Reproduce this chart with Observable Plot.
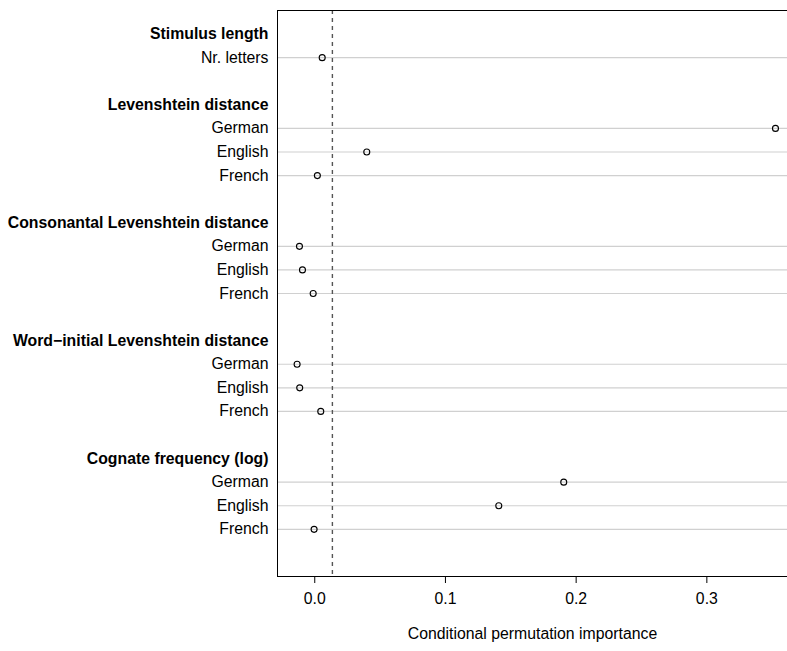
<!DOCTYPE html>
<html>
<head>
<meta charset="utf-8">
<script src="https://cdn.jsdelivr.net/npm/d3@7"></script>
<script src="https://cdn.jsdelivr.net/npm/@observablehq/plot@0.6"></script>
<style>
  html, body { margin: 0; padding: 0; background: #fff; }
  #chart svg { display: block; }
</style>
</head>
<body>
<div id="chart"></div>
<script>
const groups = [
  "Stimulus length",
  "Levenshtein distance",
  "Consonantal Levenshtein distance",
  "Word\u2212initial Levenshtein distance",
  "Cognate frequency (log)"
];
const itemLabels = [
  ["Nr. letters"],
  ["German", "English", "French"],
  ["German", "English", "French"],
  ["German", "English", "French"],
  ["German", "English", "French"]
];
const importance = [
  [0.0057],
  [0.3525, 0.0398, 0.0020],
  [-0.0117, -0.0094, -0.0012],
  [-0.0135, -0.0115, 0.0046],
  [0.1905, 0.1408, -0.0005]
];
const threshold = 0.0135;
const xTicks = [0, 0.1, 0.2, 0.3];
const xLabel = "Conditional permutation importance";

// Build rows: header row, items, blank row between groups (R dotchart layout)
const headers = [];
const items = [];
let idx = 0;
groups.forEach((g, gi) => {
  headers.push({ label: g, row: idx });
  idx++;
  itemLabels[gi].forEach((lab, j) => {
    items.push({ label: lab, row: idx, value: importance[gi][j] });
    idx++;
  });
  idx++; // blank row
});

const font = "'Liberation Sans', Arial, Helvetica, sans-serif";
const fs = 15.8;

const chart = Plot.plot({
  width: 787,
  height: 651,
  marginLeft: 277,
  marginRight: 0,
  marginTop: 10,
  marginBottom: 75,
  style: { fontFamily: font, fontSize: fs + "px", color: "#000", background: "#fff" },
  x: { domain: [-0.0285, 0.3617], ticks: xTicks, tickFormat: ".1f", tickSize: 7, tickPadding: 9, label: null },
  y: { domain: [idx, -1], axis: null },
  marks: [
    Plot.ruleY(items, { y: "row", stroke: "#d0d0d0", strokeWidth: 1.2 }),
    Plot.ruleX([threshold], { stroke: "#555", strokeWidth: 1.4, strokeDasharray: "4,4" }),
    Plot.dot(items, { x: "value", y: "row", r: 3, stroke: "#000", fill: "none", strokeWidth: 1.1 }),
    Plot.text(headers, { y: "row", text: "label", frameAnchor: "left", textAnchor: "end", dx: -9, fontWeight: "bold", fontSize: fs, fill: "#000" }),
    Plot.text(items, { y: "row", text: "label", frameAnchor: "left", textAnchor: "end", dx: -9, fontSize: fs, fill: "#000" }),
    Plot.text([xLabel], { text: d => d, frameAnchor: "bottom", dy: 62, fontSize: fs, fill: "#000" }),
    Plot.frame({ anchor: "left", stroke: "#000" }),
    Plot.frame({ anchor: "top", stroke: "#000" }),
    Plot.frame({ anchor: "bottom", stroke: "#000" })
  ]
});
document.getElementById("chart").appendChild(chart);
</script>
</body>
</html>
